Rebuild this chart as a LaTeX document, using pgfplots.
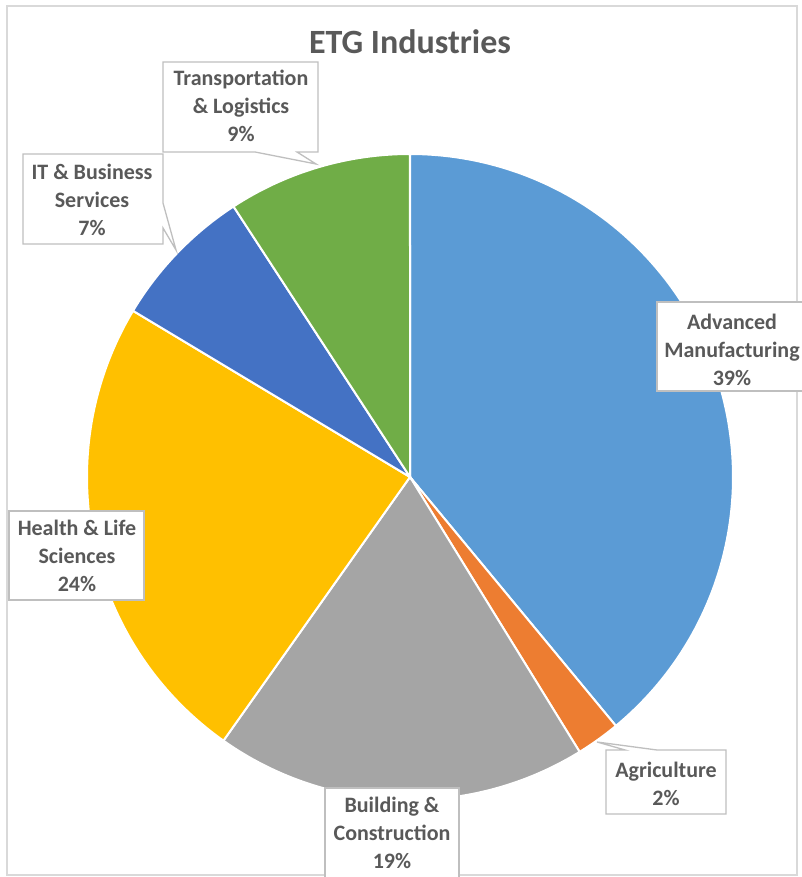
\documentclass[border=0pt]{standalone}
\usepackage{pgfplots}
\pgfplotsset{compat=1.18}
\usepackage{pgfplotstable}
\usepackage{fontspec}
\setmainfont{Carlito}
\definecolor{cAdv}{HTML}{5B9BD5}
\definecolor{cAgr}{HTML}{ED7D31}
\definecolor{cBld}{HTML}{A5A5A5}
\definecolor{cHlt}{HTML}{FFC000}
\definecolor{cITB}{HTML}{4472C4}
\definecolor{cTrn}{HTML}{70AD47}
\definecolor{cTxt}{HTML}{595959}
\definecolor{cBox}{HTML}{BFBFBF}
\definecolor{cFrame}{HTML}{D9D9D9}
\pgfplotstableread{
sector value
Advanced 39.0
Agriculture 2.2
Building 18.6
Health 23.8
ITBusiness 7.2
Transport 9.2
}\piedata
\begin{document}
\begin{tikzpicture}
\pgfplotstablegetelem{0}{value}\of\piedata \pgfmathsetmacro\aA{3.6*\pgfplotsretval}
\pgfplotstablegetelem{1}{value}\of\piedata \pgfmathsetmacro\aB{\aA+3.6*\pgfplotsretval}
\pgfplotstablegetelem{2}{value}\of\piedata \pgfmathsetmacro\aC{\aB+3.6*\pgfplotsretval}
\pgfplotstablegetelem{3}{value}\of\piedata \pgfmathsetmacro\aD{\aC+3.6*\pgfplotsretval}
\pgfplotstablegetelem{4}{value}\of\piedata \pgfmathsetmacro\aE{\aD+3.6*\pgfplotsretval}
\pgfplotstablegetelem{5}{value}\of\piedata \pgfmathsetmacro\aF{\aE+3.6*\pgfplotsretval}
\begin{axis}[x=1pt,y=1pt,xmin=0,xmax=802,ymin=0,ymax=877,hide axis,clip=false,
  wedge/.style={draw=white,line width=2pt,samples=120}]
\coordinate (SW) at (0,0);
\coordinate (NE) at (802,877);
% frame
\draw[cFrame,line width=1.5pt] (7,2) -- (7,871) -- (797,871) -- (797,2) -- cycle;
% title
\node[font=\fontsize{34}{40}\selectfont\bfseries,text=cTxt] at (410,835) {ETG Industries};
% wedges
\addplot[wedge,fill=cAdv,domain=0:\aA] ({410+323*sin(x)},{400+323*cos(x)}) -- (410,400) -- cycle;
\addplot[wedge,fill=cAgr,domain=\aA:\aB] ({410+323*sin(x)},{400+323*cos(x)}) -- (410,400) -- cycle;
\addplot[wedge,fill=cBld,domain=\aB:\aC] ({410+323*sin(x)},{400+323*cos(x)}) -- (410,400) -- cycle;
\addplot[wedge,fill=cHlt,domain=\aC:\aD] ({410+323*sin(x)},{400+323*cos(x)}) -- (410,400) -- cycle;
\addplot[wedge,fill=cITB,domain=\aD:\aE] ({410+323*sin(x)},{400+323*cos(x)}) -- (410,400) -- cycle;
\addplot[wedge,fill=cTrn,domain=\aE:\aF] ({410+323*sin(x)},{400+323*cos(x)}) -- (410,400) -- cycle;
% label boxes
\tikzset{lbl/.style={font=\fontsize{22}{28}\selectfont\bfseries,text=cTxt,align=center},
  bx/.style={draw=cBox,line width=1.3pt,fill=white}}
% Transportation
\draw[bx] (163,815) -- (318,815) -- (318,725) -- (297,725) -- (316,713) -- (255,725) -- (163,725) -- cycle;
\node[lbl] at (241,771) {Transportation\\\& Logistics\\9\%};
% IT
\draw[bx] (23,723) -- (163,723) -- (163,674) -- (176,627) -- (163,649) -- (163,633) -- (23,633) -- cycle;
\node[lbl] at (92,677) {IT \& Business\\Services\\7\%};
% Advanced
\draw[bx] (657,575) -- (810,575) -- (810,486) -- (657,486) -- cycle;
\node[lbl] at (732,527) {Advanced\\Manufacturing\\39\%};
% Agriculture
\draw[bx] (606,127) -- (625,127) -- (597,135) -- (657,127) -- (726,127) -- (726,63) -- (606,63) -- cycle;
\node[lbl] at (666,93) {Agriculture\\2\%};
% Building
\draw[bx] (325,89) -- (459,89) -- (459,-8) -- (325,-8) -- cycle;
\node[lbl] at (392,44) {Building \&\\Construction\\19\%};
% Health
\draw[bx] (9,366) -- (144,366) -- (144,277) -- (9,277) -- cycle;
\node[lbl] at (77,321) {Health \& Life\\Sciences\\24\%};
\end{axis}
\pgfresetboundingbox
\useasboundingbox (SW) rectangle (NE);
\end{tikzpicture}
\end{document}
